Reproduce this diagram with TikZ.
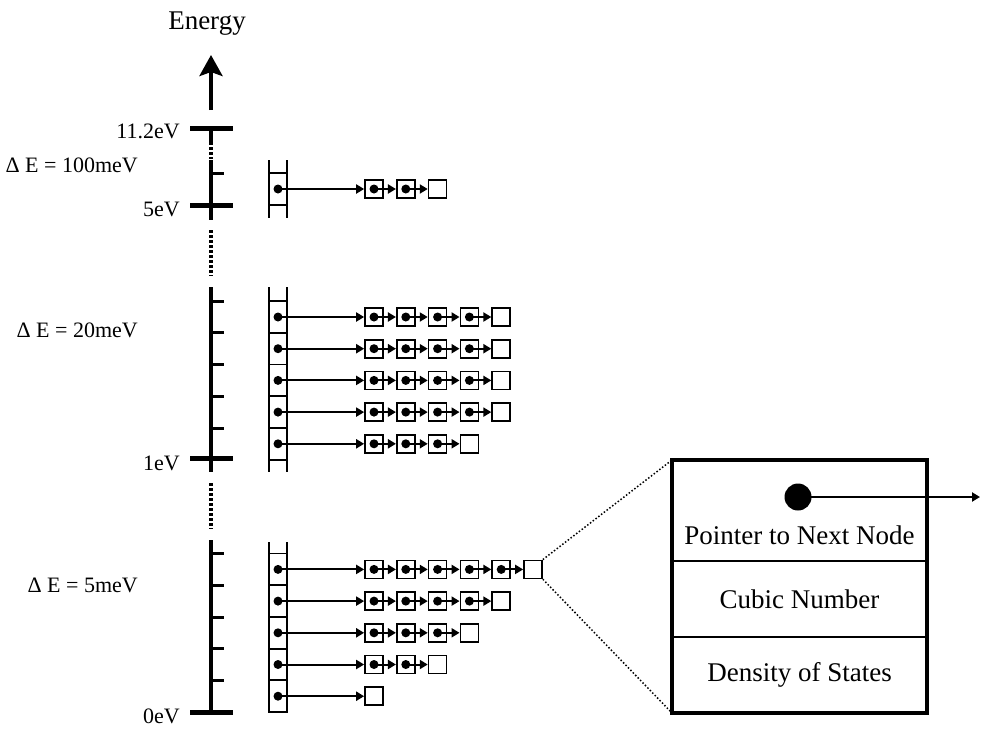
\documentclass[tikz,border=0pt]{standalone}
\usepackage{fontspec}
\setmainfont{Liberation Serif}
\usetikzlibrary{arrows.meta,positioning,calc}

\begin{document}
\begin{tikzpicture}[x=1pt,y=-1pt,
    axis/.style={line width=4pt},
    gap/.style={line width=4pt,dash pattern=on 3pt off 2pt},
    major/.style={line width=5pt},
    minor/.style={line width=3pt},
    rail/.style={line width=1.8pt},
    slot/.style={draw,line width=1.8pt,minimum width=18pt,minimum height=31.7pt,inner sep=0pt,outer sep=0pt},
    cell/.style={draw,line width=1.7pt,minimum size=18pt,inner sep=0pt},
    ptr/.style={-{Triangle[length=8pt,width=9pt]},line width=2pt},
    lab/.style={inner sep=0pt,font=\fontsize{22}{24}\selectfont},
    big/.style={inner sep=0pt,font=\fontsize{27}{30}\selectfont},
    field/.style={draw,line width=1.6pt,minimum width=255pt,inner sep=0pt,outer sep=0pt,font=\fontsize{27}{30}\selectfont}
  ]
  \useasboundingbox (0,0) rectangle (981,728);

  % energy axis
  \node[big] (energy) at (207,24) {Energy};
  \draw[axis,-{Stealth[length=21pt,width=23pt,inset=4pt]}] (211,110) -- (211,55);
  \draw[axis] (211,128) -- (211,145);
  \draw[gap] (211,147) -- (211,159);
  \draw[axis] (211,160) -- (211,220);
  \draw[gap] (211,230) -- (211,276);
  \draw[axis] (211,287) -- (211,472);
  \draw[gap] (211,483) -- (211,529);
  \draw[axis] (211,540) -- (211,712);
  \foreach \y in {128,205,458,712} \draw[major] (190,\y) -- (233,\y);
  \foreach \y in {173,301.2,332.9,364.6,396.3,428,553.6,585.3,617,648.7,680.4} \draw[minor] (211,\y) -- (224,\y);

  \node[lab,anchor=east] (v112) at (180,131) {11.2eV};
  \node[lab,anchor=east] (v5) at (180,209) {5eV};
  \node[lab,anchor=east] (v1) at (180,463) {1eV};
  \node[lab,anchor=east] (v0) at (180,716) {0eV};
  \node[lab,anchor=east] (d100) at (138,165) {Δ E = 100meV};
  \node[lab,anchor=east] (d20) at (138,330) {Δ E = 20meV};
  \node[lab,anchor=east] (d5) at (138,585) {Δ E = 5meV};

  % bins and linked lists
  \foreach \p/\yy/\m in {t1/189/3,u1/317/5,u2/348.7/5,u3/380.4/5,u4/412.1/5,u5/443.8/4,
                         l1/569.4/6,l2/601.1/5,l3/632.8/4,l4/664.5/3,l5/696.2/1}{
    \node[slot] (\p) at (278,\yy) {};
    \fill (\p) circle (4.5pt);
    \foreach \k in {1,...,\m}{
      \node[cell] (\p-\k) at ({374+31.8*(\k-1)},\yy) {};
      \ifnum\k<\m \fill (\p-\k) circle (4.5pt); \fi
    }
    \draw[ptr] (\p.center) -- (\p-1.west);
    \ifnum\m>1
      \foreach \k [remember=\k as \j (initially 1)] in {2,...,\m}
        \draw[ptr] (\p-\j.center) -- (\p-\k.west);
    \fi
  }
  \draw[rail] (t1.north west) -- ++(0,-13) (t1.north east) -- ++(0,-13)
              (t1.south west) -- ++(0,13) (t1.south east) -- ++(0,13);
  \draw[rail] (u1.north west) -- ++(0,-14) (u1.north east) -- ++(0,-14)
              (u5.south west) -- ++(0,12) (u5.south east) -- ++(0,12);
  \draw[rail] (l1.north west) -- ++(0,-12) (l1.north east) -- ++(0,-12);

  % node record
  \node[field,minimum height=101pt,anchor=north west] (ptrf) at (672,460) {};
  \node[field,minimum height=76pt,below=0pt of ptrf] (cubf) {Cubic Number};
  \node[field,minimum height=76pt,below=0pt of cubf] (dosf) {Density of States};
  \draw[line width=4pt] (ptrf.north west) rectangle (dosf.south east);
  \node[big,above=16pt of ptrf.south] (ptrtxt) {Pointer to Next Node};
  \node[circle,fill,minimum size=27pt,inner sep=0pt] (nxt) at (798,497) {};
  \coordinate (nxtend) at (980,497);
  \draw[ptr] (nxt.center) -- (nxtend);
  \draw[dotted,line width=1.5pt] (l1-6.north east) -- (ptrf.north west)
                                 (l1-6.south east) -- (dosf.south west);
\end{tikzpicture}
\end{document}
